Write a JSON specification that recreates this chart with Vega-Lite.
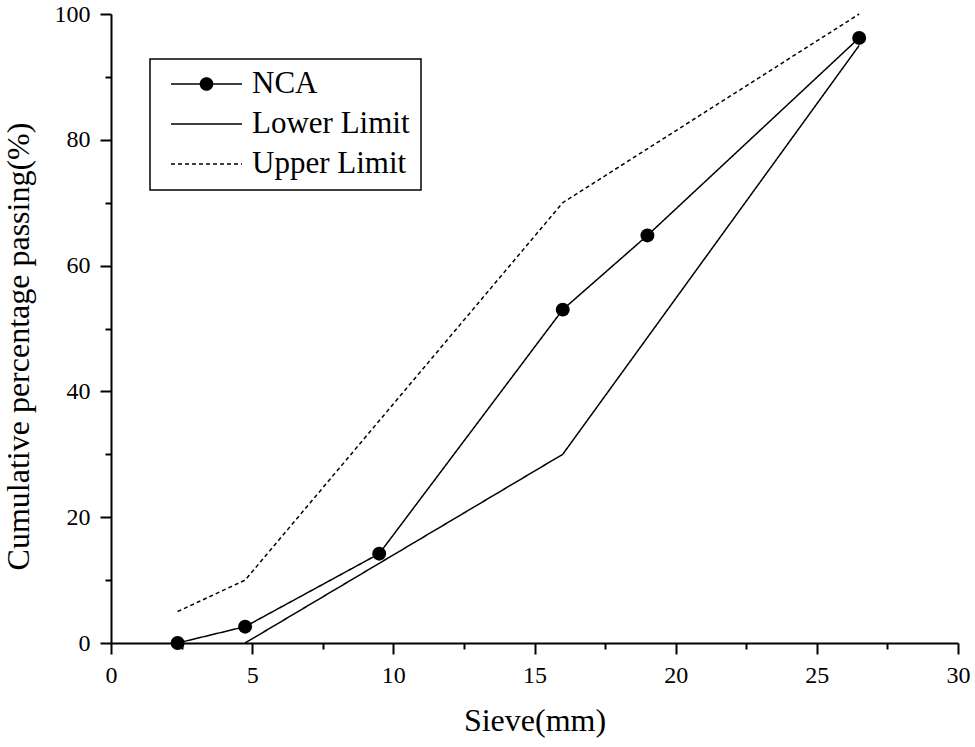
{
  "$schema": "https://vega.github.io/schema/vega-lite/v6.json",
  "description": "Sieve analysis of NCA with lower and upper grading limits",
  "width": 847,
  "height": 629,
  "autosize": "none",
  "padding": {"left": 111, "top": 14, "right": 17, "bottom": 104},
  "background": "white",
  "config": {
    "font": "Liberation Serif",
    "view": {"stroke": null},
    "axis": {
      "grid": false,
      "domainColor": "black",
      "domainWidth": 2,
      "tickColor": "black",
      "tickWidth": 2,
      "labelColor": "black",
      "labelFont": "Liberation Serif",
      "labelFontSize": 24,
      "labelOverlap": false,
      "labelFlush": false,
      "labelBound": false,
      "titleColor": "black",
      "titleFont": "Liberation Serif",
      "titleFontSize": 32,
      "titleFontWeight": "normal"
    }
  },
  "data": {
    "values": [
      {"series": "NCA", "sieve": 2.36, "passing": 0},
      {"series": "NCA", "sieve": 4.75, "passing": 2.6},
      {"series": "NCA", "sieve": 9.5, "passing": 14.2},
      {"series": "NCA", "sieve": 16, "passing": 53},
      {"series": "NCA", "sieve": 19, "passing": 64.8},
      {"series": "NCA", "sieve": 26.5, "passing": 96.2},
      {"series": "Lower Limit", "sieve": 4.75, "passing": 0},
      {"series": "Lower Limit", "sieve": 16, "passing": 30},
      {"series": "Lower Limit", "sieve": 26.5, "passing": 95},
      {"series": "Upper Limit", "sieve": 2.36, "passing": 5},
      {"series": "Upper Limit", "sieve": 4.75, "passing": 10},
      {"series": "Upper Limit", "sieve": 16, "passing": 70},
      {"series": "Upper Limit", "sieve": 26.5, "passing": 100}
    ]
  },
  "encoding": {
    "x": {
      "field": "sieve",
      "type": "quantitative",
      "scale": {"domain": [0, 30], "nice": false, "zero": false},
      "axis": {
        "title": "Sieve(mm)",
        "values": [0, 2.5, 5, 7.5, 10, 12.5, 15, 17.5, 20, 22.5, 25, 27.5, 30],
        "labelExpr": "datum.value % 5 === 0 ? datum.label : ''",
        "tickSize": {"condition": {"test": "datum.value % 5 === 0", "value": 11}, "value": 6},
        "labelPadding": 9,
        "titlePadding": 18
      }
    },
    "y": {
      "field": "passing",
      "type": "quantitative",
      "scale": {"domain": [0, 100], "nice": false},
      "axis": {
        "title": "Cumulative percentage passing(%)",
        "values": [0, 10, 20, 30, 40, 50, 60, 70, 80, 90, 100],
        "labelExpr": "datum.value % 20 === 0 ? datum.label : ''",
        "tickSize": {"condition": {"test": "datum.value % 20 === 0", "value": 11}, "value": 6},
        "labelPadding": 10,
        "titlePadding": 19,
        "titleY": 332
      }
    }
  },
  "layer": [
    {
      "mark": {"type": "line", "color": "black", "strokeWidth": 1.5},
      "encoding": {
        "strokeDash": {
          "field": "series",
          "type": "nominal",
          "scale": {
            "domain": ["NCA", "Lower Limit", "Upper Limit"],
            "range": [[1, 0], [1, 0], [4, 3]]
          },
          "legend": {
            "title": null,
            "orient": "none",
            "legendX": 39,
            "legendY": 45,
            "direction": "vertical",
            "strokeColor": "black",
            "padding": 11,
            "rowPadding": 9,
            "symbolSize": 5041,
            "symbolOffset": 9,
            "symbolStrokeColor": "black",
            "symbolStrokeWidth": 1.5,
            "clipHeight": 28,
            "labelOffset": 9,
            "labelFont": "Liberation Serif",
            "labelFontSize": 31,
            "labelColor": "black",
            "labelLimit": 300,
            "encode": {
              "symbols": {
                "update": {
                  "shape": {"signal": "datum.value === 'NCA' ? 'M-1,0L1,0M-0.17,0A0.17,0.17,0,1,0,0.17,0A0.17,0.17,0,1,0,-0.17,0Z' : 'M-1,0L1,0'"},
                  "fill": {"signal": "datum.value === 'NCA' ? 'black' : 'transparent'"},
                  "stroke": {"value": "black"},
                  "strokeWidth": {"value": 1.5},
                  "strokeOpacity": {"value": 1}
                }
              },
              "legend": {
                "update": {"strokeWidth": {"value": 1.5}}
              }
            }
          }
        }
      }
    },
    {
      "transform": [{"filter": "datum.series === 'NCA'"}],
      "mark": {"type": "circle", "size": 195, "color": "black", "opacity": 1}
    }
  ]
}
